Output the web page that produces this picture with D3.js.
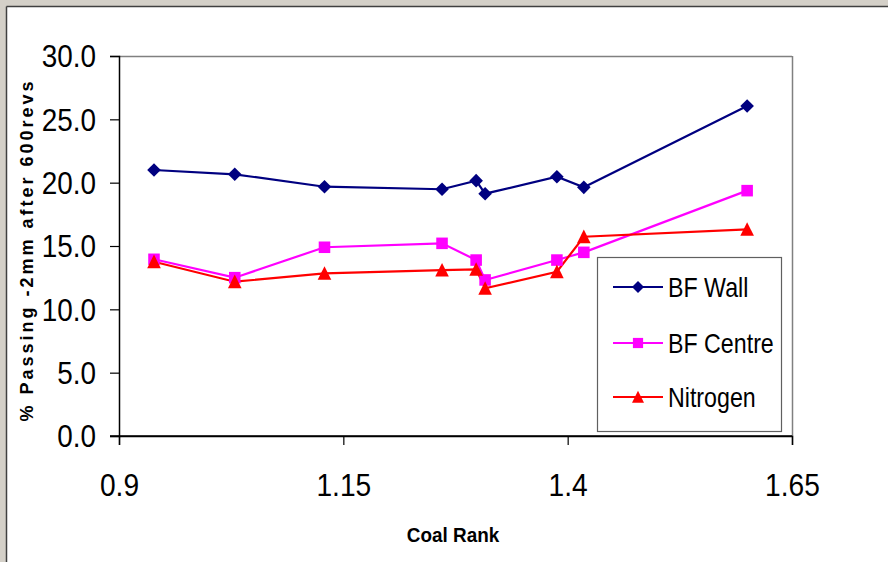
<!DOCTYPE html>
<html>
<head>
<meta charset="utf-8">
<script src="https://cdn.jsdelivr.net/npm/d3@7"></script>
<style>
  html, body { margin: 0; padding: 0; background: #d4d0c8; }
  svg { display: block; }
  text { font-family: "Liberation Sans", Arial, sans-serif; }
</style>
</head>
<body>
<svg id="chart" width="888" height="562"></svg>
<script>
// ---- data ----
const coalRank = [0.939, 1.029, 1.129, 1.260, 1.298, 1.308, 1.388, 1.418, 1.600];
const bfWall   = [21.0, 20.66, 19.68, 19.48, 20.16, 19.13, 20.47, 19.63, 26.05];
const bfCentre = [13.95, 12.5, 14.9, 15.21, 13.89, 12.32, 13.89, 14.5, 19.37];
const nitrogen = [13.76, 12.18, 12.84, 13.1, 13.16, 11.66, 12.97, 15.73, 16.32];
const xTicks = [0.9, 1.15, 1.4, 1.65];
const xTickLabels = ["0.9", "1.15", "1.4", "1.65"];
const yTicks = [0, 5, 10, 15, 20, 25, 30];
const seriesNames = ["BF Wall", "BF Centre", "Nitrogen"];
const seriesColors = ["#000080", "#ff00ff", "#ff0000"];
const seriesShapes = ["diamond", "square", "triangle"];
const xTitle = "Coal Rank";
const yTitle = "% Passing -2mm after 600revs";

const svg = d3.select("#chart");

// outer panel
svg.append("rect").attr("x", 0).attr("y", 0).attr("width", 888).attr("height", 562).attr("fill", "#d4d0c8");
svg.append("rect").attr("x", 7).attr("y", 7).attr("width", 881).attr("height", 555).attr("fill", "#ffffff");
svg.append("line").attr("x1", 6.5).attr("x2", 888).attr("y1", 6.5).attr("y2", 6.5).attr("stroke", "#404040").attr("stroke-width", 1.5);
svg.append("line").attr("x1", 6.5).attr("x2", 6.5).attr("y1", 6.5).attr("y2", 562).attr("stroke", "#404040").attr("stroke-width", 1.5);

const L = 119, R = 792, T = 56, B = 436;
const x = d3.scaleLinear().domain([0.9, 1.65]).range([L, R]);
const y = d3.scaleLinear().domain([0, 30]).range([B, T]);

// plot frame: top and right gray
svg.append("line").attr("x1", L).attr("x2", R).attr("y1", T + 0.5).attr("y2", T + 0.5).attr("stroke", "#808080").attr("stroke-width", 1.5);
svg.append("line").attr("x1", R + 0.5).attr("x2", R + 0.5).attr("y1", T).attr("y2", B).attr("stroke", "#808080").attr("stroke-width", 1.5);

// y axis
const yAxis = d3.axisLeft(y).tickValues(yTicks).tickSize(9).tickPadding(14).tickFormat(d3.format(".1f"));
const gy = svg.append("g").attr("transform", `translate(${L},0)`).call(yAxis);
gy.select(".domain").attr("stroke", "#000").attr("stroke-width", 1.5);
gy.selectAll(".tick line").attr("stroke", "#000").attr("stroke-width", 1.2);
gy.selectAll(".tick text").attr("font-size", 31).attr("fill", "#000")
  .attr("font-family", "Liberation Sans, Arial, sans-serif")
  .attr("x", 0).attr("transform", "translate(-23,1) scale(0.9,1)");

// x axis
const xAxis = d3.axisBottom(x).tickValues(xTicks).tickSize(9).tickPadding(28).tickFormat((d, i) => xTickLabels[i]);
const gx = svg.append("g").attr("transform", `translate(0,${B})`).call(xAxis);
gx.select(".domain").attr("stroke", "#000").attr("stroke-width", 1.5);
gx.selectAll(".tick line").attr("stroke", "#000").attr("stroke-width", 1.2);
gx.selectAll(".tick text").attr("font-size", 32).attr("fill", "#000")
  .attr("font-family", "Liberation Sans, Arial, sans-serif")
  .attr("transform", "scale(0.88,1)");
// extend x axis line left to the y tick
svg.append("line").attr("x1", L - 9).attr("x2", R).attr("y1", B).attr("y2", B).attr("stroke", "#000").attr("stroke-width", 1.5);

// titles
svg.append("text").attr("transform", "translate(453,542) scale(0.9,1)").attr("text-anchor", "middle")
  .attr("font-size", 21).attr("font-weight", "bold").text(xTitle);
svg.append("text").attr("transform", "translate(33,250) rotate(-90)").attr("text-anchor", "middle")
  .attr("font-size", 18).attr("font-weight", "bold").attr("letter-spacing", 3).text(yTitle);

// symbols
function symbolPath(shape, s) {
  if (shape === "diamond") return `M0,${-s}L${s},0L0,${s}L${-s},0Z`;
  if (shape === "square") return `M${-s*0.85},${-s*0.85}H${s*0.85}V${s*0.85}H${-s*0.85}Z`;
  return `M0,${-s*1.05}L${s},${s*0.95}L${-s},${s*0.95}Z`;
}

const seriesData = [bfWall, bfCentre, nitrogen];
const line = d3.line().x(d => x(d[0])).y(d => y(d[1]));

seriesData.forEach((vals, si) => {
  const pts = coalRank.map((c, i) => [c, vals[i]]);
  svg.append("path").datum(pts).attr("d", line).attr("fill", "none")
    .attr("stroke", seriesColors[si]).attr("stroke-width", 2.2);
});
seriesData.forEach((vals, si) => {
  const pts = coalRank.map((c, i) => [c, vals[i]]);
  svg.append("g").selectAll("path").data(pts).join("path")
    .attr("transform", d => `translate(${x(d[0])},${y(d[1])})`)
    .attr("d", symbolPath(seriesShapes[si], 6.8))
    .attr("fill", seriesColors[si]);
});

// legend
const lg = svg.append("g");
lg.append("rect").attr("x", 597.5).attr("y", 257.5).attr("width", 184).attr("height", 174)
  .attr("fill", "#fff").attr("stroke", "#606060").attr("stroke-width", 1.2);
const legY = [287, 343, 397];
seriesNames.forEach((name, i) => {
  lg.append("line").attr("x1", 613).attr("x2", 663).attr("y1", legY[i]).attr("y2", legY[i])
    .attr("stroke", seriesColors[i]).attr("stroke-width", 1.8);
  lg.append("path").attr("transform", `translate(638,${legY[i]})`)
    .attr("d", symbolPath(seriesShapes[i], 6)).attr("fill", seriesColors[i]);
  lg.append("text").attr("transform", `translate(668,${legY[i]}) scale(0.86,1)`).attr("dy", "0.36em")
    .attr("font-size", 27).attr("fill", "#000").text(name);
});
</script>
</body>
</html>
